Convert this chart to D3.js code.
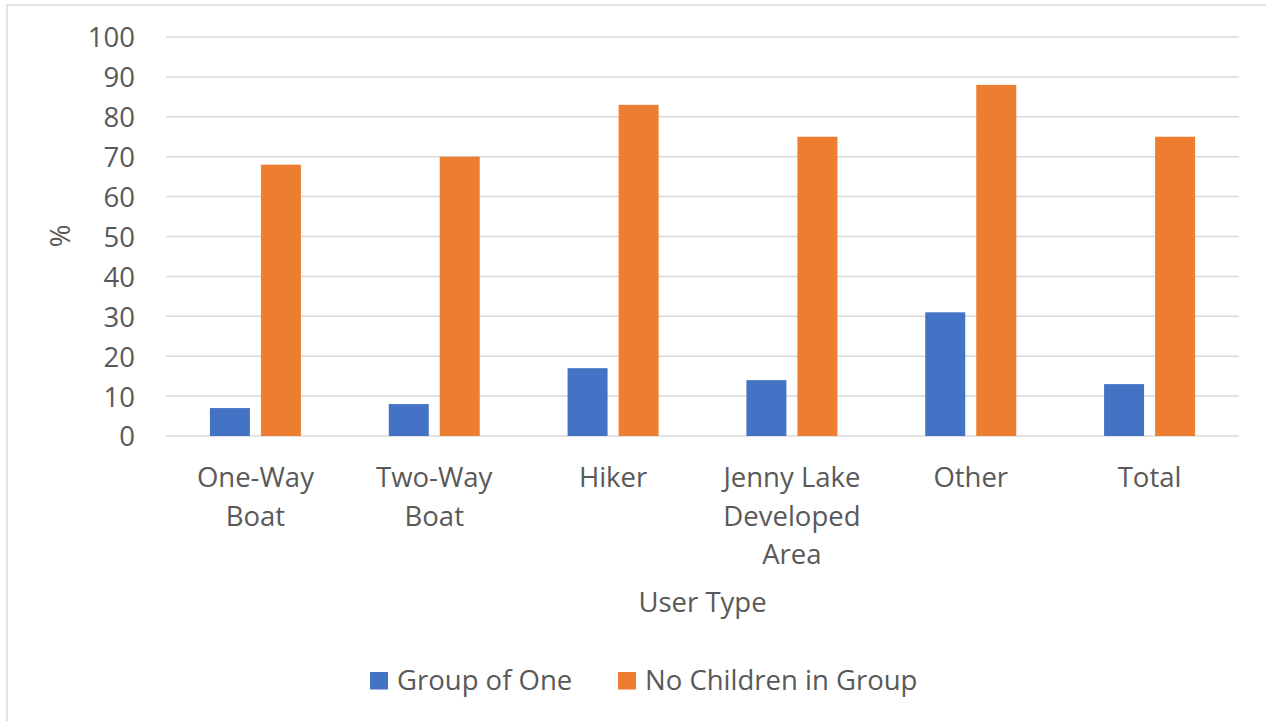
<!DOCTYPE html>
<html>
<head>
<meta charset="utf-8">
<script src="https://cdn.jsdelivr.net/npm/d3@7"></script>
<style>
  html, body { margin: 0; padding: 0; background: #fff; }
  svg text { font-family: "Open Sans", Lato, "Liberation Sans", sans-serif; fill: #595959; }
</style>
</head>
<body>
<svg id="chart" width="1266" height="721"></svg>
<script>
// User types along the x axis (multi-line labels)
const categories = [
  ["One-Way", "Boat"],
  ["Two-Way", "Boat"],
  ["Hiker"],
  ["Jenny Lake", "Developed", "Area"],
  ["Other"],
  ["Total"]
];
const seriesNames = ["Group of One", "No Children in Group"];
const groupOfOne = [7, 8, 17, 14, 31, 13];
const noChildren = [68, 70, 83, 75, 88, 75];
const yTicks = [0, 10, 20, 30, 40, 50, 60, 70, 80, 90, 100];
const colors = ["#4472c4", "#ed7d31"];

const FONT = 27.5;
const svg = d3.select("#chart");

// Chart frame (runs off the right and bottom edges)
svg.append("rect")
  .attr("x", 7).attr("y", 5).attr("width", 1300).attr("height", 760)
  .attr("fill", "#fff").attr("stroke", "#d9d9d9").attr("stroke-width", 1.5);

const plot = { left: 166, right: 1239, top: 37, bottom: 436 };

const y = d3.scaleLinear().domain([0, 100]).range([plot.bottom, plot.top]);
const keys = categories.map((c, i) => i);
const x0 = d3.scaleBand().domain(keys).range([plot.left, plot.right]).padding(0);
const x1 = d3.scaleBand().domain([0, 1]).range([0, 91]).paddingInner(0.216);

// Gridlines
svg.append("g")
  .selectAll("line").data(yTicks).join("line")
  .attr("x1", plot.left).attr("x2", plot.right)
  .attr("y1", d => y(d)).attr("y2", d => y(d))
  .attr("stroke", "#d9d9d9").attr("stroke-width", 1.5);

// Y axis labels
const yAxis = d3.axisLeft(y).tickValues(yTicks).tickSize(0).tickPadding(0);
const gy = svg.append("g").attr("transform", "translate(135,0)").call(yAxis);
gy.select(".domain").remove();
gy.selectAll("text")
  .attr("font-size", FONT).attr("dy", "0.36em")
  .style("font-family", "'Open Sans', Lato, sans-serif").style("fill", "#595959");

// Bars
const data = keys.map(i => [groupOfOne[i], noChildren[i]]);
const groups = svg.append("g").selectAll("g").data(data).join("g")
  .attr("transform", (d, i) => `translate(${x0(i) + x0.bandwidth() / 2 - 45.5},0)`);
groups.selectAll("rect").data(d => d.map((v, s) => ({ v, s }))).join("rect")
  .attr("x", d => x1(d.s))
  .attr("width", x1.bandwidth())
  .attr("y", d => y(d.v))
  .attr("height", d => y(0) - y(d.v))
  .attr("fill", d => colors[d.s]);

// X category labels
const xl = svg.append("g").selectAll("text").data(categories).join("text")
  .attr("text-anchor", "middle")
  .attr("font-size", FONT)
  .attr("x", (d, i) => x0(i) + x0.bandwidth() / 2)
  .attr("y", 487);
xl.selectAll("tspan").data(d => d).join("tspan")
  .attr("x", function () { return d3.select(this.parentNode).attr("x"); })
  .attr("dy", (d, j) => j === 0 ? 0 : 38.7)
  .text(d => d);

// Axis titles
svg.append("text")
  .attr("x", (plot.left + plot.right) / 2).attr("y", 612)
  .attr("text-anchor", "middle").attr("font-size", FONT)
  .text("User Type");
svg.append("text")
  .attr("transform", "translate(70,236) rotate(-90)")
  .attr("text-anchor", "middle").attr("font-size", FONT)
  .text("%");

// Legend
const legendX = [370, 618];
const legend = svg.append("g").selectAll("g").data(seriesNames).join("g")
  .attr("transform", (d, i) => `translate(${legendX[i]},672)`);
legend.append("rect").attr("width", 18).attr("height", 17.5)
  .attr("fill", (d, i) => colors[i]);
legend.append("text").attr("x", 27).attr("y", 18).attr("font-size", FONT)
  .text(d => d);
</script>
</body>
</html>
